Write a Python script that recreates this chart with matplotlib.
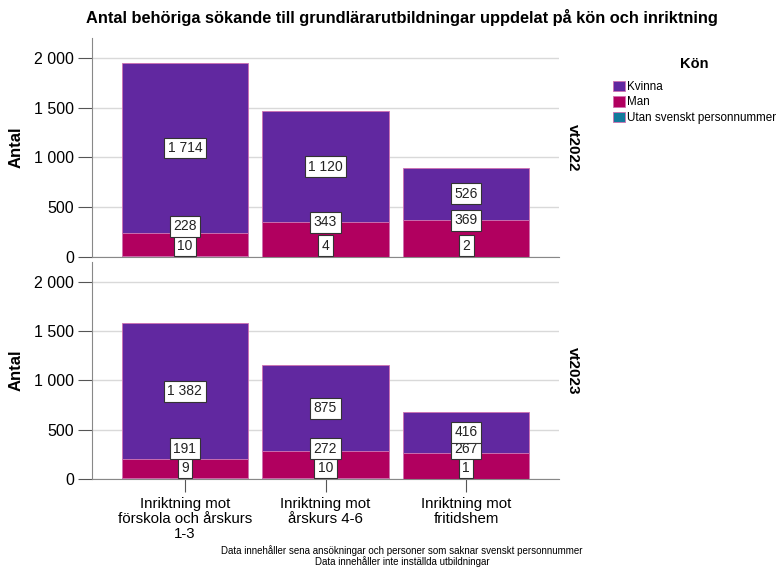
import matplotlib.pyplot as plt
import matplotlib.transforms as mtransforms
import numpy as np

plt.rcParams['font.family'] = ['Liberation Sans', 'DejaVu Sans']

# data
categories = ['Inriktning mot\nförskola och årskurs\n1-3', 'Inriktning mot\nårskurs 4-6', 'Inriktning mot\nfritidshem']
terms = ['vt2022', 'vt2023']
utan = {'vt2022': [10, 4, 2], 'vt2023': [9, 10, 1]}
man = {'vt2022': [228, 343, 369], 'vt2023': [191, 272, 267]}
kvinna = {'vt2022': [1714, 1120, 526], 'vt2023': [1382, 875, 416]}
yticks = [0, 500, 1000, 1500, 2000]

c_kvinna = '#6128a0'
c_man = '#b1005f'
c_utan = '#137a9c'
edge = '#d070b0'


def fmt(v):
    return f'{v:,}'.replace(',', ' ')


fig = plt.figure(figsize=(7.77, 5.67), dpi=100)
W, H = 777, 567
axes = [fig.add_axes([92 / W, 1 - 257 / H, 467 / W, 219 / H]),
        fig.add_axes([92 / W, 1 - 479 / H, 467 / W, 217 / H])]

x = np.arange(len(categories))
bw = 0.9
box = dict(boxstyle='square,pad=0.25', fc='white', ec='#333333', lw=0.8)

for ax, term in zip(axes, terms):
    u = np.array(utan[term])
    m = np.array(man[term])
    k = np.array(kvinna[term])
    ax.set_ylim(0, 2200)
    ax.set_xlim(-0.66, 2.66)
    ax.set_yticks(yticks)
    ax.set_yticklabels([fmt(t) for t in yticks], fontsize=11.5)
    ax.yaxis.grid(True, color='#d9d9d9', lw=1, zorder=0)
    ax.set_axisbelow(True)
    ax.bar(x, u, bw, color=c_utan, edgecolor=edge, lw=0.6, zorder=2, label='Utan svenskt personnummer')
    ax.bar(x, m, bw, bottom=u, color=c_man, edgecolor=edge, lw=0.6, zorder=2, label='Man')
    ax.bar(x, k, bw, bottom=u + m, color=c_kvinna, edgecolor=edge, lw=0.6, zorder=2, label='Kvinna')
    for i in range(len(x)):
        uy = 112
        my = max(u[i] + m[i], uy + 195)
        ky = u[i] + m[i] + k[i] / 2
        for val, yy in [(u[i], uy), (m[i], my), (k[i], ky)]:
            ax.text(x[i], yy, fmt(val), ha='center', va='center', fontsize=10,
                    color='#222222', bbox=box, zorder=4)
    ax.set_ylabel('Antal', fontsize=12, fontweight='bold', va='center')
    ax.yaxis.set_label_coords((16 - 92) / 467, 0.5)
    for s in ['top', 'right']:
        ax.spines[s].set_visible(False)
    for s in ['left', 'bottom']:
        ax.spines[s].set_color('#888888')
    ax.tick_params(axis='y', length=10, color='#555555', pad=3)
    trans = mtransforms.blended_transform_factory(fig.transFigure, ax.transAxes)
    ax.text(573 / W, 0.5, term, transform=trans, rotation=-90,
            ha='center', va='center', fontsize=11, fontweight='bold')

axes[0].set_xticks([])
axes[0].tick_params(axis='x', length=0)
axes[1].set_xticks(x)
axes[1].set_xticklabels(categories, fontsize=10.8, linespacing=1.1)
axes[1].tick_params(axis='x', length=9, color='#555555', pad=4)

fig.text(402 / W, 1 - 18 / H, 'Antal behöriga sökande till grundlärarutbildningar uppdelat på kön och inriktning',
         ha='center', va='center', fontsize=11.8, fontweight='bold')

handles, labels = axes[0].get_legend_handles_labels()
leg = fig.legend(handles[::-1], labels[::-1], title='Kön', loc='upper left',
                 bbox_to_anchor=(607 / W, 1 - 51 / H), frameon=False, fontsize=8.4,
                 handlelength=1.0, handleheight=1.0, handletextpad=0.2, labelspacing=0.3,
                 borderpad=0)
leg.get_title().set_fontweight('bold')
leg.get_title().set_fontsize(10.5)
leg._legend_box.align = 'center'
leg._legend_box.sep = 7

fig.text(402 / W, 1 - 556 / H, 'Data innehåller sena ansökningar och personer som saknar svenskt personnummer\nData innehåller inte inställda utbildningar',
         ha='center', va='center', fontsize=7, linespacing=1.0)

fig.savefig('out.png', dpi=100)
